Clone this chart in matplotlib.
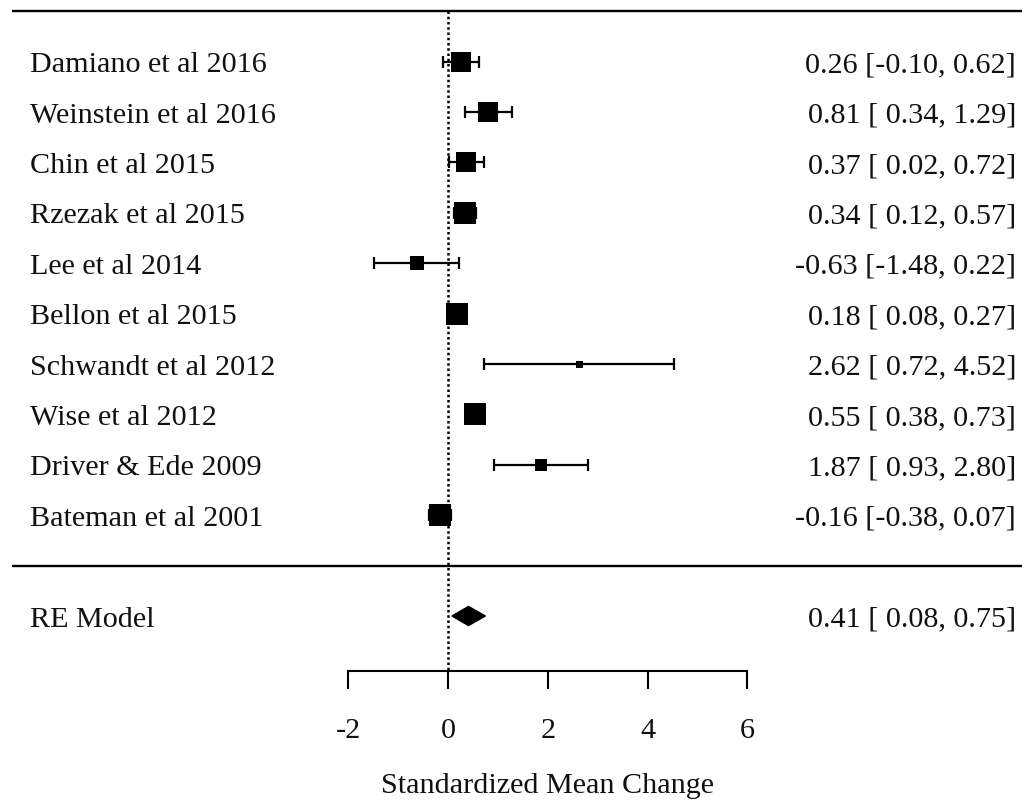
import numpy as np
import matplotlib
matplotlib.use("Agg")
import matplotlib.pyplot as plt
from matplotlib.patches import Polygon

# ---- data ----
studies = ["Damiano et al 2016", "Weinstein et al 2016", "Chin et al 2015",
           "Rzezak et al 2015", "Lee et al 2014", "Bellon et al 2015",
           "Schwandt et al 2012", "Wise et al 2012", "Driver & Ede 2009",
           "Bateman et al 2001"]
estimates = [0.26, 0.81, 0.37, 0.34, -0.63, 0.18, 2.62, 0.55, 1.87, -0.16]
ci_lower = [-0.10, 0.34, 0.02, 0.12, -1.48, 0.08, 0.72, 0.38, 0.93, -0.38]
ci_upper = [0.62, 1.29, 0.72, 0.57, 0.22, 0.27, 4.52, 0.73, 2.80, 0.07]
weights = [11.4, 10.4, 11.5, 12.4, 6.0, 13.0, 2.5, 12.7, 5.4, 12.4]  # RE weights (%)
model_label = "RE Model"
model_est, model_lb, model_ub = 0.41, 0.08, 0.75
xticks = [-2, 0, 2, 4, 6]
xlabel = "Standardized Mean Change"

# ---- layout ----
plt.rcParams['font.family'] = ['Liberation Serif', 'DejaVu Serif']
FS = 21.7
TXT = '#111111'
px_per_unit = 49.9
x0_px = 448.0
row_px = 50.4
row0_px = 566.6
W, H = 1022, 803

fig = plt.figure(figsize=(W / 100, H / 100), dpi=100)
ax = fig.add_axes([0, 0, 1, 1])
ax.set_xlim(-x0_px / px_per_unit, (W - x0_px) / px_per_unit)
ax.set_ylim(-(H - row0_px) / row_px, row0_px / row_px)

k = len(studies)
rows = np.arange(k, 0, -1)
axis_row = -(672 - row0_px) / row_px
left_x = (30 - x0_px) / px_per_unit
right_x = (1016 - x0_px) / px_per_unit
line_start = (12 - x0_px) / px_per_unit
xmax = ax.get_xlim()[1]

# horizontal rules
ax.plot([line_start, xmax], [k + 1, k + 1], color='black', lw=1.7, solid_capstyle='butt')
ax.plot([line_start, xmax], [0, 0], color='black', lw=1.7, solid_capstyle='butt')

# reference line at zero
ax.plot([0, 0], [k + 1, axis_row], color='black', lw=1.8, linestyle=(0, (1.0, 1.1)), zorder=1)

# marker sizes from weights (sqrt, min-max scaled)
sw = np.sqrt(np.array(weights))
r = (sw - sw.min()) / (sw.max() - sw.min())
sizes_px = 7 + 15 * r

est = np.array(estimates)
lo = np.array(ci_lower)
hi = np.array(ci_upper)
ax.errorbar(est, rows, xerr=[est - lo, hi - est], fmt='none', ecolor='black',
            elinewidth=1.6, capsize=4.6, capthick=1.6, zorder=2)
for xi, yi, s in zip(est, rows, sizes_px):
    ax.plot([xi], [yi], marker='s', markersize=s * 0.72, color='black',
            markeredgewidth=0, linestyle='none', zorder=3)

# summary diamond
h = 0.19
ax.add_patch(Polygon([[model_lb, -1], [model_est, -1 + h], [model_ub, -1], [model_est, -1 - h]],
                     closed=True, facecolor='black', edgecolor='black', lw=1, zorder=3))

# texts
off = 0.19
for name, yi, e, l, u in zip(studies, rows, estimates, ci_lower, ci_upper):
    ax.text(left_x, yi - off, name, fontsize=FS, ha='left', va='baseline', color=TXT)
    ax.text(right_x, yi - off, f"{e:.2f} [{l:5.2f}, {u:.2f}]", fontsize=FS,
            ha='right', va='baseline', color=TXT)
ax.text(left_x, -1 - off, model_label, fontsize=FS, ha='left', va='baseline', color=TXT)
ax.text(right_x, -1 - off, f"{model_est:.2f} [{model_lb:5.2f}, {model_ub:.2f}]",
        fontsize=FS, ha='right', va='baseline', color=TXT)

# x axis
for s in ['top', 'right', 'left']:
    ax.spines[s].set_visible(False)
ax.spines['bottom'].set_position(('data', axis_row))
ax.spines['bottom'].set_bounds(xticks[0], xticks[-1])
ax.spines['bottom'].set_linewidth(1.5)
ax.set_xticks(xticks)
ax.set_xticklabels([str(t) for t in xticks])
ax.tick_params(axis='x', direction='out', length=13, width=1.5, pad=20,
               labelsize=FS, labelcolor=TXT)
ax.set_yticks([])
ax.text((xticks[0] + xticks[-1]) / 2, -(793 - row0_px) / row_px, xlabel,
        fontsize=FS, ha='center', va='baseline', color=TXT)

fig.savefig("out.png", dpi=100)
